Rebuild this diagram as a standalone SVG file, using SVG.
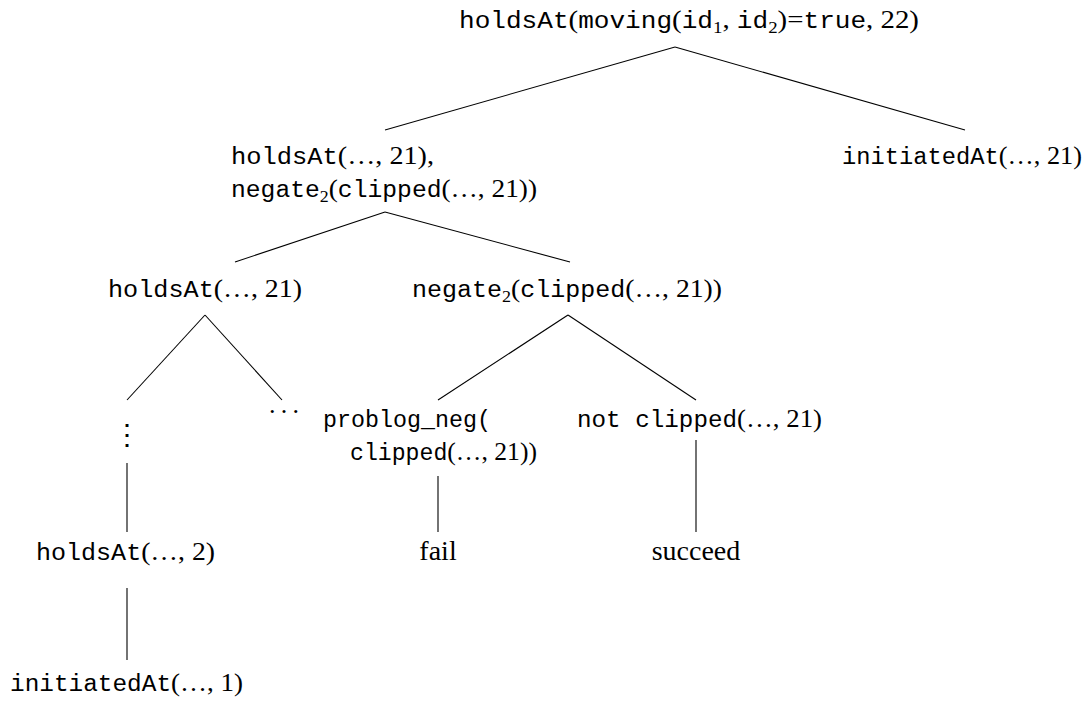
<svg xmlns="http://www.w3.org/2000/svg" width="1090" height="702" viewBox="0 0 1090 702">
<style>
text{font-family:"Liberation Serif",serif;font-size:26px;fill:#000}
.m{font-family:"Liberation Mono",monospace;font-size:23.5px}
.s{font-size:17px}
.big{font-size:28px}
#edges line{stroke:#000;stroke-width:1.1}
</style>
<rect width="1090" height="702" fill="#fff"/>
<g id="edges">
<line x1="675" y1="47" x2="385" y2="130"/>
<line x1="675" y1="47" x2="965" y2="130"/>
<line x1="385" y1="212" x2="235" y2="262"/>
<line x1="385" y1="212" x2="570" y2="262"/>
<line x1="205" y1="315" x2="127" y2="400"/>
<line x1="205" y1="315" x2="282" y2="400"/>
<line x1="568" y1="315" x2="438" y2="400"/>
<line x1="568" y1="315" x2="696" y2="400"/>
<line x1="127" y1="463" x2="127" y2="532"/>
<line x1="438" y1="476" x2="438" y2="532"/>
<line x1="696" y1="440" x2="696" y2="532"/>
<line x1="127" y1="588" x2="127" y2="660"/>
</g>
<g id="n-root"><text x="459" y="28" textLength="460" lengthAdjust="spacingAndGlyphs"><tspan class="m">holdsAt</tspan>(<tspan class="m">moving</tspan>(<tspan class="m">id</tspan><tspan class="s" dy="5">1</tspan><tspan dy="-5">, </tspan><tspan class="m">id</tspan><tspan class="s" dy="5">2</tspan><tspan dy="-5">)=</tspan><tspan class="m">true</tspan>, 22)</text></g>
<g id="n-conj"><text x="231" y="164" textLength="203" lengthAdjust="spacingAndGlyphs"><tspan class="m">holdsAt</tspan>(…, 21),</text><text x="231" y="197" textLength="306" lengthAdjust="spacingAndGlyphs"><tspan class="m">negate</tspan><tspan class="s" dy="5">2</tspan><tspan dy="-5">(</tspan><tspan class="m">clipped</tspan>(…, 21))</text></g>
<g id="n-init21"><text x="842" y="164" textLength="240" lengthAdjust="spacingAndGlyphs"><tspan class="m">initiatedAt</tspan>(…, 21)</text></g>
<g id="n-holds21"><text x="108" y="297" textLength="194" lengthAdjust="spacingAndGlyphs"><tspan class="m">holdsAt</tspan>(…, 21)</text></g>
<g id="n-neg"><text x="412" y="297" textLength="310" lengthAdjust="spacingAndGlyphs"><tspan class="m">negate</tspan><tspan class="s" dy="5">2</tspan><tspan dy="-5">(</tspan><tspan class="m">clipped</tspan>(…, 21))</text></g>
<g id="n-vdots"><text x="127" y="444" text-anchor="middle" style="font-family:'DejaVu Serif',serif;font-size:28px">⋮</text></g>
<g id="n-hdots"><text x="284" y="413" text-anchor="middle" textLength="30" lengthAdjust="spacing">. . .</text></g>
<g id="n-problog"><text x="323" y="427" class="m" textLength="168" lengthAdjust="spacingAndGlyphs">problog_neg(</text><text x="350" y="460" textLength="187" lengthAdjust="spacingAndGlyphs"><tspan class="m">clipped</tspan>(…, 21))</text></g>
<g id="n-not"><text x="577" y="427" textLength="245" lengthAdjust="spacingAndGlyphs"><tspan class="m">not clipped</tspan>(…, 21)</text></g>
<g id="n-fail"><text x="438" y="560" text-anchor="middle" class="big">fail</text></g>
<g id="n-succeed"><text x="696" y="560" text-anchor="middle" class="big">succeed</text></g>
<g id="n-holds2"><text x="36" y="560" textLength="179" lengthAdjust="spacingAndGlyphs"><tspan class="m">holdsAt</tspan>(…, 2)</text></g>
<g id="n-init1"><text x="10" y="691" textLength="233" lengthAdjust="spacingAndGlyphs"><tspan class="m">initiatedAt</tspan>(…, 1)</text></g>
</svg>
